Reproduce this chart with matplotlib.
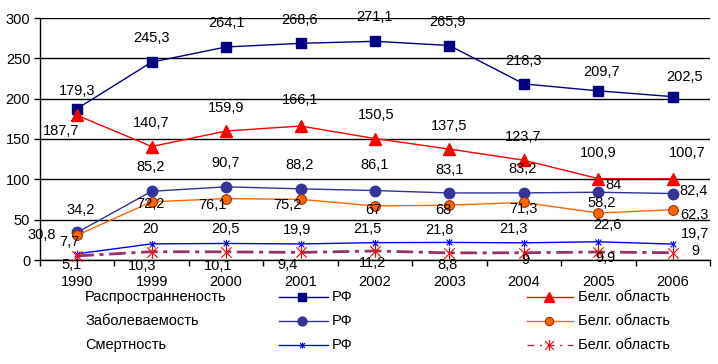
import numpy as np
import matplotlib
matplotlib.use('Agg')
import matplotlib.pyplot as plt
from matplotlib.path import Path
from matplotlib.lines import Line2D

plt.rcParams['font.family'] = ['Liberation Sans', 'DejaVu Sans']

years = ['1990', '1999', '2000', '2001', '2002', '2003', '2004', '2005', '2006']

prev_rf = [187.7, 245.3, 264.1, 268.6, 271.1, 265.9, 218.3, 209.7, 202.5]
prev_belg = [179.3, 140.7, 159.9, 166.1, 150.5, 137.5, 123.7, 100.9, 100.7]
inc_rf = [34.2, 85.2, 90.7, 88.2, 86.1, 83.1, 83.2, 84, 82.4]
inc_belg = [30.8, 72.2, 76.1, 75.2, 67, 68, 71.3, 58.2, 62.3]
mort_rf = [7.7, 20, 20.5, 19.9, 21.5, 21.8, 21.3, 22.6, 19.7]
mort_belg = [5.1, 10.3, 10.1, 9.4, 11.2, 8.8, 9, 9.9, 9]

row_names = ['Распространненость', 'Заболеваемость', 'Смертность']
rf_name = 'РФ'
belg_name = 'Белг. область'

# label positions (data coords), hand placed like in the original
lab_prev_rf = [(-0.21, 159.9), (1.0, 275.2), (2.0, 293.8), (2.99, 297.5), (3.99, 301.2),
               (4.97, 295.0), (5.99, 246.7), (7.05, 233.0), (8.16, 226.8)]
lab_prev_belg = [(0.0, 209.5), (1.0, 169.8), (2.0, 188.4), (2.99, 198.3), (4.02, 179.7),
                 (5.0, 166.1), (5.99, 152.5), (7.0, 132.6), (8.2, 132.6)]
lab_inc_rf = [(0.04, 62), (0.99, 115.3), (2.0, 120.2), (2.99, 117.8), (3.99, 117.8),
              (5.0, 111.6), (5.98, 112.8), (7.2, 93), (8.28, 85.5)]
lab_inc_belg = [(-0.48, 31), (0.98, 69.4), (1.82, 68.2), (2.83, 68.2), (3.98, 62),
                (4.92, 62), (5.99, 63.2), (7.05, 70.7), (8.29, 55.8)]
lab_mort_rf = [(-0.1, 22.3), (0.99, 38.4), (1.99, 38.4), (2.95, 37.2), (3.9, 38.4),
               (4.86, 37.2), (5.86, 38.4), (7.12, 43.4), (8.3, 32.2)]
lab_mort_belg = [(-0.07, -6.2), (0.87, -7.4), (1.89, -7.4), (2.83, -6.2), (3.96, -3.7),
                 (4.97, -6.2), (6.02, 0.0), (7.1, 2.5), (8.3, 11.2)]

star = Path([(-1, -1), (1, 1), (-1, 1), (1, -1), (0, -1.2), (0, 1.2)],
            [Path.MOVETO, Path.LINETO, Path.MOVETO, Path.LINETO, Path.MOVETO, Path.LINETO])

styles = [
    dict(color='#000080', lw=1.0, marker='s', ms=7.5, mfc='#000080', mec='#000080'),
    dict(color='#FF0000', lw=1.0, marker='^', ms=8, mfc='#FF0000', mec='#FF0000'),
    dict(color='#333399', lw=1.0, marker='o', ms=7.5, mfc='#333399', mec='#333399'),
    dict(color='#FF6600', lw=1.0, marker='o', ms=7, mfc='#FF6600', mec='#993300', mew=0.8),
    dict(color='#0000FF', lw=1.0, marker=star, ms=5, mfc='none', mec='#0000FF', mew=0.8),
    dict(color='#993366', lw=2.0, ls=(0, (6, 2, 1.5, 2)), marker=star, ms=9, mfc='none',
         mec='#FF0000', mew=0.8),
]

series = [prev_rf, prev_belg, inc_rf, inc_belg, mort_rf, mort_belg]
labels = [lab_prev_rf, lab_prev_belg, lab_inc_rf, lab_inc_belg, lab_mort_rf, lab_mort_belg]

fig = plt.figure(figsize=(7.18, 3.64), dpi=100)
ax = fig.add_axes([40 / 718, 1 - 260 / 364, 670 / 718, 242 / 364])

x = np.arange(len(years))
for vals, st in zip(series, styles):
    ax.plot(x, vals, clip_on=False, zorder=3, **st)

fs = 10.5
for vals, labs in zip(series, labels):
    for v, (lx, ly) in zip(vals, labs):
        ax.text(lx, ly, f'{v:g}'.replace('.', ','), ha='center', va='center', fontsize=fs, zorder=4)

ax.set_xlim(-0.5, len(years) - 0.5)
ax.set_ylim(0, 300)
ax.set_yticks(np.arange(0, 301, 50))
ax.yaxis.grid(True, color='black', lw=1.0)
ax.set_axisbelow(True)
ax.set_xticks(x)
ax.set_xticklabels(years, fontsize=fs)
ax.set_xticks(np.arange(-0.5, len(years)), minor=True)
ax.tick_params(axis='x', which='major', length=0, pad=11)
ax.tick_params(axis='x', which='minor', length=4, width=1, direction='out')
ax.tick_params(axis='y', length=4, width=1, labelsize=fs, pad=3)
for s in ['top', 'right']:
    ax.spines[s].set_visible(False)
for s in ['left', 'bottom']:
    ax.spines[s].set_linewidth(1.0)
    ax.spines[s].set_color('black')

# legend drawn as a small table under the axis
rows_y = [297, 321, 345]
for i, ry in enumerate(rows_y):
    fy = 1 - ry / 364
    fig.text(85 / 718, fy, row_names[i], fontsize=fs, va='center', ha='left')
    st_rf = styles[2 * i]
    st_b = styles[2 * i + 1]
    fig.add_artist(Line2D([279 / 718, 328 / 718], [fy, fy], transform=fig.transFigure,
                          color=st_rf['color'], lw=st_rf['lw'], ls=st_rf.get('ls', '-')))
    fig.add_artist(Line2D([302 / 718], [fy], transform=fig.transFigure, ls='none',
                          marker=st_rf['marker'], ms=st_rf['ms'] * 0.85, mfc=st_rf['mfc'],
                          mec=st_rf['mec'], mew=st_rf.get('mew', 1)))
    fig.text(332 / 718, fy, rf_name, fontsize=fs, va='center', ha='left')
    fig.add_artist(Line2D([527 / 718, 573 / 718], [fy, fy], transform=fig.transFigure,
                          color=st_b['color'], lw=st_b['lw'] if i < 2 else 1.0,
                          ls=st_b.get('ls', '-') if i < 2 else (0, (5, 4, 1.5, 4))))
    fig.add_artist(Line2D([549 / 718], [fy], transform=fig.transFigure, ls='none',
                          marker=st_b['marker'], ms=st_b['ms'] * 0.85, mfc=st_b['mfc'],
                          mec=st_b['mec'], mew=st_b.get('mew', 1)))
    fig.text(578 / 718, fy, belg_name, fontsize=fs, va='center', ha='left')

fig.savefig('out.png', dpi=100)
